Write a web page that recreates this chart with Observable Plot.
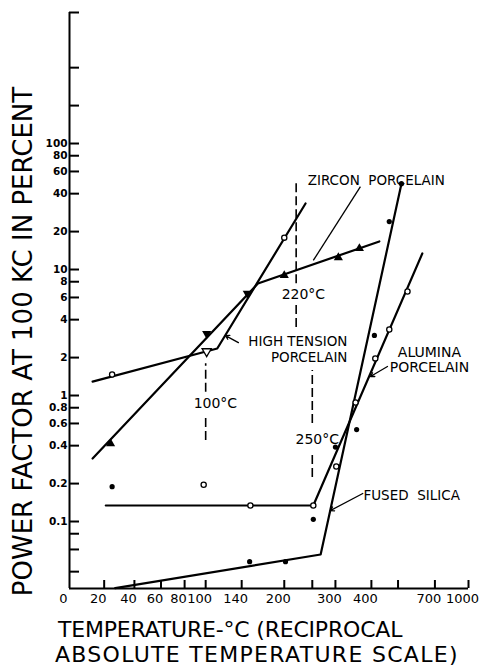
<!DOCTYPE html>
<html>
<head>
<meta charset="utf-8">
<script src="https://cdn.jsdelivr.net/npm/d3@7"></script>
<script src="https://cdn.jsdelivr.net/npm/@observablehq/plot@0.6"></script>
<style>
html,body{margin:0;padding:0;background:#fff;}
#wrap{width:494px;height:666px;overflow:hidden;font-family:"DejaVu Sans",sans-serif;color:#000;}
#xtitle{font-size:22px;padding-top:6px;white-space:nowrap;}
#xtitle .l1{padding-left:58px;line-height:24px;letter-spacing:-0.2px;}
#xtitle .l2{padding-left:55px;line-height:21px;margin-top:2px;letter-spacing:1.3px;}
</style>
</head>
<body>
<div id="wrap"></div>
<script>
// ---- axis ticks ----
const xTickTemps  = [0, 20, 40, 60, 80, 100, 140, 200, 250, 300, 400, 500, 700, 1000];
const xTickLabels = ["0","20","40","60","80","100","140","200","","300","400","","700","1000"];
const yLabeledTicks = [0.1, 0.2, 0.4, 0.6, 0.8, 1, 2, 4, 6, 8, 10, 20, 40, 60, 80, 100];
const yMinorTicks = [0.04, 0.06, 0.08, 200, 400, 1096];
const yDomain = [0.0294, 1096];
const xDomainTemps = [0, 1000];

// ---- curves: [temperature °C, power factor %] ----
const highTensionLine = [[13, 1.29], [112, 2.36], [237, 33.4]];
const zirconLine      = [[13, 0.316], [161, 7.74], [427, 16.7]];
const aluminaLine     = [[21, 0.134], [252, 0.134], [621, 13.4]];
const fusedSilicaLine = [[27, 0.0296], [267, 0.0547], [515, 48]];

// ---- measured points ----
const highTensionCircles = [[25, 1.47], [200, 17.9]];
const highTensionTriangles = [[101, 2.24]];
const zirconTrianglesUp = [[24, 0.416], [200, 8.97], [307, 12.45], [363, 14.7]];
const zirconTrianglesDown = [[101, 3.1], [147, 6.45]];
const aluminaPoints = [[98, 0.196], [151, 0.134], [252, 0.134], [302, 0.273], [352, 0.88], [413, 1.97], [464, 3.34], [543, 6.7]];
const fusedSilicaPoints = [[25, 0.189], [150, 0.048], [202, 0.048], [252, 0.104], [300, 0.39], [355, 0.537], [410, 3.0], [464, 24], [515, 48]];

// ---- reference temperatures (dashed) ----
const dashSegments = [[100, 1.06, 1.79], [100, 0.44, 0.669], [220, 7.7, 48], [220, 3.46, 5.18], [250, 0.6, 1.58], [250, 0.224, 0.353]];
const dashLabels = [["100°C", 110, 0.864], ["220°C", 233, 6.34], ["250°C", 260, 0.447]];

// ---- annotations ----
const startLabels  = [["ZIRCON  PORCELAIN", 241, 50.8], ["FUSED  SILICA", 375, 0.161]];
const endLabels    = [["HIGH TENSION\nPORCELAIN", 330, 2.34]];
const middleLabels = [["ALUMINA\nPORCELAIN", 664, 1.91]];
const plainLeaders = [[[366, 45.5], [252, 11.8]]];
const arrowLeaders = [[[136, 2.63], [121, 2.99]], [[457, 1.7], [397, 1.415]], [[373, 0.167], [288, 0.122]]];

// reciprocal absolute temperature
const recip = T => 1 / 273 - 1 / (T + 273);
const X = d => recip(d[0]);
const Y = d => d[1];
const yFmt = v => String(v);

const W = 494, H = 612, mL = 69, mR = 26, mT = 12, mB = 24;
const frameW = W - mL - mR, frameH = H - mT - mB;
const font = "DejaVu Sans";

const chart = Plot.plot({
  width: W,
  height: H,
  marginLeft: mL,
  marginRight: mR,
  marginTop: mT,
  marginBottom: mB,
  style: {fontFamily: font, background: "white", color: "black"},
  x: {type: "linear", domain: xDomainTemps.map(recip), axis: null},
  y: {type: "log", domain: yDomain, axis: null},
  marks: [
    // axis lines
    Plot.ruleX([recip(xDomainTemps[0])], {stroke: "black", strokeWidth: 2}),
    Plot.ruleY([yDomain[0]], {stroke: "black", strokeWidth: 2}),
    // inward ticks
    Plot.tickY([...yLabeledTicks, ...yMinorTicks], {y: d => d, insetRight: frameW - 10, stroke: "black", strokeWidth: 2}),
    Plot.tickX(xTickTemps.slice(1), {x: recip, insetTop: frameH - 8, stroke: "black", strokeWidth: 2}),
    // tick labels
    Plot.text(yLabeledTicks, {y: d => d, frameAnchor: "left", textAnchor: "end", dx: -2, text: yFmt, fontSize: 10.5, fontWeight: "bold", fill: "black"}),
    Plot.text(xTickTemps, {x: recip, frameAnchor: "bottom", lineAnchor: "top", dy: 5, dx: -6, text: (d, i) => xTickLabels[i], fontSize: 13, fill: "black"}),
    // y title
    Plot.text(["POWER FACTOR AT 100 KC IN PERCENT"], {frameAnchor: "left", textAnchor: "middle", rotate: -90, dx: -46, dy: 41, fontSize: 26, fill: "black"}),
    // dashed reference lines
    Plot.ruleX(dashSegments, {x: d => recip(d[0]), y1: d => d[1], y2: d => d[2], stroke: "black", strokeWidth: 1.6, strokeDasharray: "9,4"}),
    Plot.text(dashLabels, {x: d => recip(d[1]), y: d => d[2], text: d => d[0], fontSize: 14, fill: "black"}),
    // curves
    Plot.line(highTensionLine, {x: X, y: Y, stroke: "black", strokeWidth: 2.2}),
    Plot.line(zirconLine, {x: X, y: Y, stroke: "black", strokeWidth: 2.2}),
    Plot.line(aluminaLine, {x: X, y: Y, stroke: "black", strokeWidth: 2.2}),
    Plot.line(fusedSilicaLine, {x: X, y: Y, stroke: "black", strokeWidth: 2.2}),
    // points
    Plot.dot(fusedSilicaPoints, {x: X, y: Y, r: 2.6, fill: "black"}),
    Plot.dot(aluminaPoints, {x: X, y: Y, r: 2.6, fill: "white", stroke: "black", strokeWidth: 1.3}),
    Plot.dot(highTensionCircles, {x: X, y: Y, r: 2.6, fill: "white", stroke: "black", strokeWidth: 1.3}),
    Plot.dot(highTensionTriangles, {x: X, y: Y, r: 3.4, symbol: "triangle", rotate: 180, fill: "white", stroke: "black", strokeWidth: 1.3}),
    Plot.dot(zirconTrianglesUp, {x: X, y: Y, r: 3.4, symbol: "triangle", fill: "black"}),
    Plot.dot(zirconTrianglesDown, {x: X, y: Y, r: 3.4, symbol: "triangle", rotate: 180, fill: "black"}),
    // leaders
    Plot.link(plainLeaders, {x1: d => recip(d[0][0]), y1: d => d[0][1], x2: d => recip(d[1][0]), y2: d => d[1][1], stroke: "black", strokeWidth: 1.3}),
    Plot.arrow(arrowLeaders, {x1: d => recip(d[0][0]), y1: d => d[0][1], x2: d => recip(d[1][0]), y2: d => d[1][1], stroke: "black", strokeWidth: 1.3, headLength: 5}),
    // curve labels
    Plot.text(startLabels, {x: d => recip(d[1]), y: d => d[2], text: d => d[0], textAnchor: "start", fontSize: 13.5, fill: "black"}),
    Plot.text(endLabels, {x: d => recip(d[1]), y: d => d[2], text: d => d[0], textAnchor: "end", lineHeight: 1.17, fontSize: 13.5, fill: "black"}),
    Plot.text(middleLabels, {x: d => recip(d[1]), y: d => d[2], text: d => d[0], textAnchor: "middle", lineHeight: 1.05, fontSize: 14, fill: "black"})
  ]
});

const wrap = document.getElementById("wrap");
wrap.appendChild(chart);
const t = document.createElement("div");
t.id = "xtitle";
t.innerHTML = '<div class="l1">TEMPERATURE-°C (RECIPROCAL</div><div class="l2">ABSOLUTE TEMPERATURE SCALE)</div>';
wrap.appendChild(t);
</script>
</body>
</html>
